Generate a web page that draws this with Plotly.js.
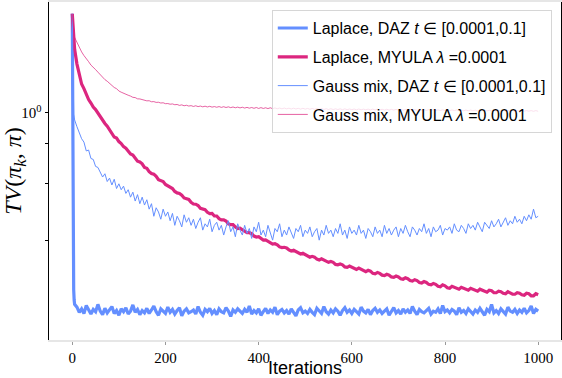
<!DOCTYPE html>
<html><head><meta charset="utf-8">
<script src="https://cdn.plot.ly/plotly-3.0.1.min.js"></script>
<style>html,body{margin:0;padding:0;background:#fff}#chart{width:562px;height:378px}</style>
</head><body><div id="chart"></div>
<script>
const iters = [0,1,2,3,4,5,
10,15,20,25,30,35,40,45,50,55,
60,65,70,75,80,85,90,95,100,105,
110,115,120,125,130,135,140,145,150,155,
160,165,170,175,180,185,190,195,200,205,
210,215,220,225,230,235,240,245,250,255,
260,265,270,275,280,285,290,295,300,305,
310,315,320,325,330,335,340,345,350,355,
360,365,370,375,380,385,390,395,400,405,
410,415,420,425,430,435,440,445,450,455,
460,465,470,475,480,485,490,495,500,505,
510,515,520,525,530,535,540,545,550,555,
560,565,570,575,580,585,590,595,600,605,
610,615,620,625,630,635,640,645,650,655,
660,665,670,675,680,685,690,695,700,705,
710,715,720,725,730,735,740,745,750,755,
760,765,770,775,780,785,790,795,800,805,
810,815,820,825,830,835,840,845,850,855,
860,865,870,875,880,885,890,895,900,905,
910,915,920,925,930,935,940,945,950,955,
960,965,970,975,980,985,990,995,1000];

const laplaceDAZ = [2.04,0.62,0.36,0.28,0.26,0.252,
0.247,0.238,0.244,0.236,0.250,0.241,0.235,0.243,0.239,0.252,
0.240,0.234,0.245,0.237,0.242,0.248,0.236,0.241,0.233,0.244,
0.239,0.246,0.235,0.240,0.251,0.238,0.243,0.234,0.241,0.237,
0.245,0.236,0.242,0.249,0.239,0.233,0.244,0.240,0.236,0.247,
0.238,0.243,0.235,0.241,0.246,0.232,0.240,0.244,0.237,0.239,
0.242,0.235,0.248,0.238,0.233,0.243,0.239,0.245,0.236,0.241,
0.234,0.244,0.239,0.237,0.246,0.240,0.231,0.242,0.238,0.244,
0.240,0.236,0.243,0.238,0.249,0.235,0.241,0.237,0.244,0.233,
0.239,0.245,0.236,0.242,0.238,0.247,0.234,0.240,0.243,0.237,
0.241,0.235,0.244,0.239,0.232,0.242,0.246,0.237,0.240,0.236,
0.243,0.238,0.234,0.245,0.240,0.236,0.248,0.239,0.235,0.242,
0.237,0.244,0.240,0.233,0.241,0.246,0.238,0.242,0.236,0.243,
0.239,0.235,0.247,0.240,0.237,0.243,0.234,0.241,0.245,0.238,
0.242,0.236,0.240,0.244,0.233,0.239,0.246,0.237,0.241,0.235,
0.244,0.238,0.242,0.236,0.248,0.240,0.234,0.243,0.239,0.237,
0.241,0.245,0.235,0.240,0.238,0.244,0.236,0.250,0.239,0.242,
0.237,0.243,0.240,0.234,0.246,0.238,0.241,0.236,0.244,0.239,
0.235,0.242,0.238,0.245,0.240,0.233,0.243,0.239,0.252,0.237,
0.241,0.236,0.244,0.239,0.235,0.247,0.240,0.238,0.243,0.236,
0.242,0.238,0.245,0.237,0.241,0.249,0.236,0.243,0.240];

const laplaceMYULA = [2.04,1.90,1.80,1.71,1.64,1.58,
1.42,1.32,1.23,1.19,1.14,1.10,1.073,1.042,1.024,0.996,
0.979,0.950,0.926,0.908,0.886,0.861,0.840,0.834,0.813,0.802,
0.784,0.775,0.757,0.744,0.738,0.724,0.706,0.702,0.693,0.675,
0.671,0.655,0.646,0.643,0.633,0.618,0.615,0.610,0.597,0.590,
0.587,0.580,0.568,0.562,0.560,0.553,0.542,0.538,0.536,0.525,
0.519,0.518,0.513,0.503,0.500,0.498,0.489,0.484,0.485,0.476,
0.476,0.467,0.463,0.463,0.459,0.450,0.447,0.447,0.440,0.435,
0.436,0.431,0.425,0.422,0.422,0.419,0.412,0.409,0.410,0.404,
0.400,0.401,0.397,0.391,0.389,0.390,0.387,0.381,0.379,0.380,
0.378,0.373,0.370,0.372,0.369,0.364,0.362,0.364,0.361,0.356,
0.354,0.356,0.354,0.349,0.347,0.350,0.347,0.342,0.341,0.343,
0.341,0.336,0.335,0.337,0.335,0.330,0.329,0.332,0.329,0.325,
0.324,0.327,0.324,0.320,0.319,0.322,0.320,0.315,0.314,0.317,
0.315,0.311,0.310,0.313,0.311,0.307,0.306,0.309,0.307,0.303,
0.302,0.305,0.303,0.299,0.298,0.301,0.299,0.295,0.294,0.297,
0.295,0.291,0.290,0.293,0.291,0.287,0.286,0.290,0.288,0.284,
0.283,0.287,0.285,0.282,0.281,0.285,0.283,0.280,0.279,0.283,
0.281,0.278,0.277,0.281,0.279,0.276,0.275,0.279,0.278,0.274,
0.274,0.277,0.276,0.273,0.272,0.276,0.274,0.271,0.271,0.274,
0.273,0.270,0.269,0.273,0.272,0.268,0.268,0.272,0.270];

const gaussDAZ = [2.04,1.45,1.04,0.99,0.97,0.95,
0.905,0.87,0.83,0.81,0.76,0.765,0.72,0.715,0.68,0.675,
0.655,0.63,0.645,0.61,0.625,0.595,0.62,0.58,0.60,0.575,
0.59,0.56,0.575,0.545,0.565,0.53,0.555,0.52,0.545,0.515,
0.535,0.50,0.52,0.475,0.505,0.49,0.465,0.50,0.475,0.49,
0.46,0.485,0.445,0.475,0.46,0.44,0.48,0.455,0.47,0.445,
0.465,0.435,0.455,0.47,0.43,0.45,0.44,0.465,0.425,0.445,
0.455,0.43,0.445,0.415,0.44,0.46,0.425,0.44,0.41,0.45,
0.43,0.415,0.445,0.42,0.435,0.405,0.44,0.425,0.455,0.415,
0.43,0.41,0.445,0.42,0.40,0.435,0.425,0.45,0.41,0.43,
0.415,0.44,0.42,0.405,0.435,0.425,0.445,0.41,0.43,0.42,
0.44,0.41,0.425,0.435,0.40,0.43,0.415,0.445,0.42,0.43,
0.41,0.435,0.42,0.45,0.415,0.43,0.405,0.44,0.42,0.43,
0.415,0.445,0.42,0.43,0.405,0.435,0.425,0.41,0.44,0.42,
0.43,0.41,0.445,0.42,0.435,0.415,0.43,0.44,0.41,0.435,
0.42,0.445,0.425,0.41,0.44,0.43,0.415,0.435,0.425,0.45,
0.42,0.435,0.41,0.44,0.425,0.43,0.445,0.415,0.435,0.43,
0.44,0.42,0.45,0.43,0.425,0.445,0.435,0.42,0.45,0.435,
0.445,0.43,0.455,0.44,0.425,0.455,0.445,0.435,0.46,0.44,
0.45,0.465,0.44,0.455,0.47,0.445,0.46,0.45,0.475,0.455,
0.465,0.45,0.475,0.46,0.48,0.465,0.50,0.47,0.475];

const gaussMYULA = [2.04,1.93,1.84,1.79,1.75,1.72,
1.66,1.60,1.55,1.51,1.47,1.445,1.41,1.39,1.365,1.34,
1.315,1.30,1.27,1.255,1.235,1.215,1.20,1.19,1.17,1.16,
1.15,1.145,1.135,1.128,1.118,1.116,1.106,1.105,1.098,1.096,
1.090,1.091,1.083,1.084,1.078,1.079,1.073,1.075,1.068,1.069,
1.064,1.066,1.060,1.062,1.055,1.059,1.052,1.056,1.050,1.053,
1.047,1.052,1.046,1.050,1.044,1.049,1.043,1.048,1.042,1.046,
1.041,1.046,1.040,1.045,1.039,1.044,1.038,1.043,1.037,1.042,
1.036,1.041,1.035,1.040,1.034,1.039,1.033,1.039,1.032,1.038,
1.032,1.037,1.031,1.037,1.030,1.036,1.030,1.035,1.029,1.035,
1.029,1.034,1.028,1.034,1.028,1.033,1.027,1.033,1.027,1.032,
1.026,1.032,1.026,1.031,1.025,1.031,1.025,1.030,1.024,1.030,
1.024,1.029,1.024,1.029,1.023,1.029,1.023,1.028,1.023,1.028,
1.022,1.028,1.022,1.027,1.022,1.027,1.021,1.027,1.021,1.026,
1.021,1.026,1.020,1.026,1.020,1.025,1.020,1.025,1.019,1.025,
1.019,1.024,1.019,1.024,1.018,1.024,1.018,1.023,1.018,1.023,
1.018,1.023,1.017,1.022,1.017,1.022,1.017,1.022,1.016,1.021,
1.016,1.021,1.016,1.021,1.015,1.020,1.015,1.020,1.015,1.020,
1.015,1.019,1.014,1.019,1.014,1.019,1.014,1.018,1.014,1.018,
1.013,1.018,1.013,1.018,1.013,1.017,1.013,1.017,1.012,1.017,
1.012,1.017,1.012,1.016,1.012,1.016,1.011,1.016,1.011];

const seriesNames = ['Laplace, DAZ <i>t</i> ∈ [0.0001,0.1]', 'Laplace, MYULA <i>λ</i> =0.0001',
  'Gauss mix, DAZ <i>t</i> ∈ [0.0001,0.1]', 'Gauss mix, MYULA <i>λ</i> =0.0001'];
const xTickVals = [0,200,400,600,800,1000];
const yTickVals = [1];
const yTickText = ['10<sup>0</sup>'];
const yMinorTickVals = [0.4,0.6,0.8];

const blue = '#648FFF', pink = '#DC267F';
const traces = [
  {x: iters, y: laplaceDAZ, name: seriesNames[0], mode:'lines', line:{color:blue, width:3.2}, legendgroup:'a'},
  {x: iters, y: laplaceMYULA, name: seriesNames[1], mode:'lines', line:{color:pink, width:3.2}, legendgroup:'b'},
  {x: iters, y: gaussDAZ, name: seriesNames[2], mode:'lines', line:{color:blue, width:1}, legendgroup:'c'},
  {x: iters, y: gaussMYULA, name: seriesNames[3], mode:'lines', line:{color:pink, width:0.8}, opacity:0.9, legendgroup:'d'}
];
const layout = {
  width:562, height:378,
  margin:{l:49, r:1, t:2, b:38},
  paper_bgcolor:'#fff', plot_bgcolor:'#fff',
  showlegend:true,
  legend:{x:0.982, xanchor:'right', y:0.976, yanchor:'top', bgcolor:'rgba(255,255,255,0.8)',
    bordercolor:'#d6d6d6', borderwidth:1, tracegroupgap:5,
    font:{family:'Liberation Sans, Arial, sans-serif', size:16, color:'#000'}},
  xaxis:{range:[-50,1049], tickvals:xTickVals, ticks:'outside', ticklen:3, tickcolor:'#999',
    showgrid:false, zeroline:false, showline:true, mirror:true, linecolor:'#e6e6e6', linewidth:2,
    tickfont:{family:'Liberation Serif, serif', size:15, color:'#000'},
    title:{text:'Iterations', standoff:6, font:{family:'Liberation Sans, Arial, sans-serif', size:18, color:'#000'}}},
  yaxis:{type:'log', range:[Math.log10(0.195), Math.log10(2.22)], tickmode:'array', tickvals:yTickVals, ticktext:yTickText,
    ticks:'outside', ticklen:3.5, tickcolor:'#000', showgrid:false, zeroline:false, showline:true, mirror:true,
    linecolor:'#000', linewidth:1,
    minor:{tickmode:'array', tickvals:yMinorTickVals, ticks:'outside', ticklen:3.5, tickcolor:'#000', showgrid:false},
    tickfont:{family:'Liberation Serif, serif', size:15, color:'#000'},
    title:{text:'<i>TV</i>(<i>π</i><sub><i>k</i></sub>, <i>π</i>)', standoff:2,
      font:{family:'Liberation Serif, serif', size:24, color:'#000'}}}
};
Plotly.newPlot('chart', traces, layout, {staticPlot:true, displayModeBar:false});
</script></body></html>
